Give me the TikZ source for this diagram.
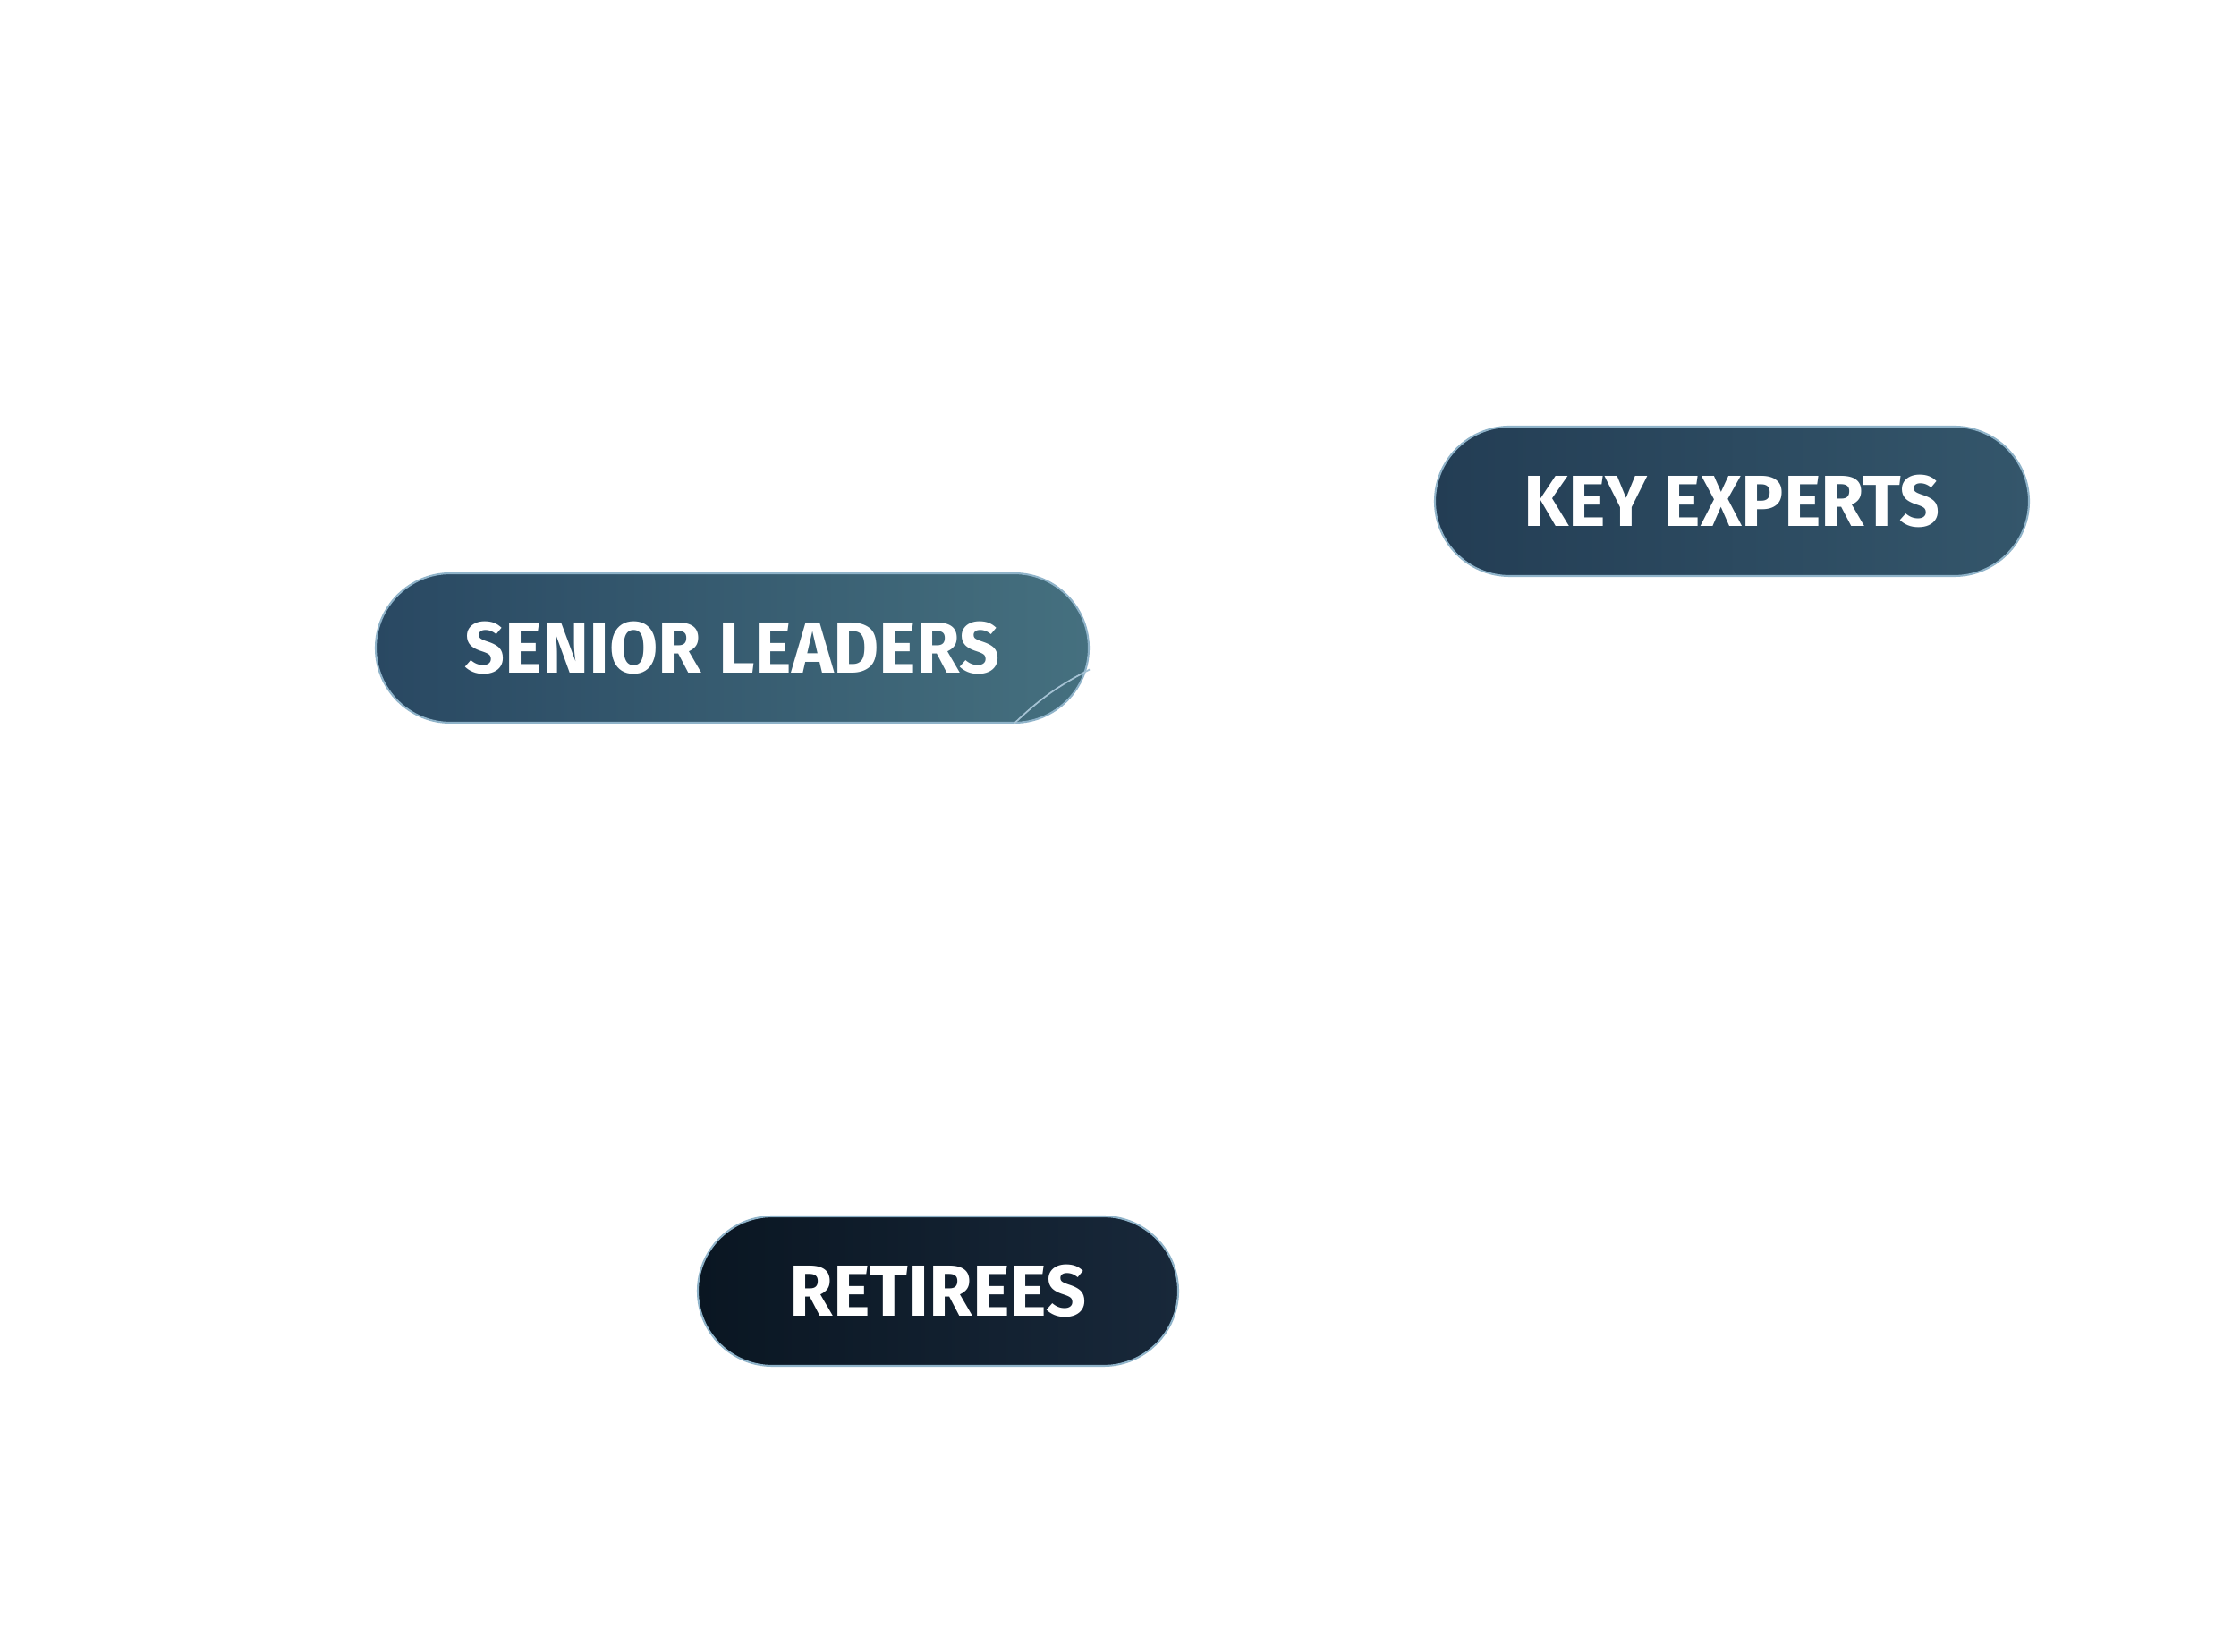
\documentclass[tikz,border=0pt]{standalone}
\usepackage{fontspec}
\setmainfont{Fira Sans}
\usetikzlibrary{shapes.misc}

\definecolor{pillrim}{HTML}{8FB3C9}
\definecolor{leadA}{HTML}{294862}
\definecolor{leadB}{HTML}{45707F}
\definecolor{expA}{HTML}{233D54}
\definecolor{expB}{HTML}{34566B}
\definecolor{retA}{HTML}{0A1622}
\definecolor{retB}{HTML}{18283A}

\begin{document}
\begin{tikzpicture}[
pill/.style={rounded rectangle,draw=pillrim,line width=0.6pt,minimum height=1.67cm,inner sep=0pt,text=white,font=\fontsize{23}{26}\selectfont\bfseries},]

\useasboundingbox (0,0) rectangle (24.76,18.47);

\node[pill,minimum width=7.97cm,left color=leadA,right color=leadB] (senior) at (8.185,11.225) {\scalebox{0.975}[1]{SENIOR LEADERS}};
\node[pill,minimum width=6.64cm,left color=expA,right color=expB] (experts) at (19.36,12.865) {\scalebox{0.975}[1]{KEY EXPERTS}};
\node[pill,minimum width=5.37cm,left color=retA,right color=retB] (retirees) at (10.485,4.035) {\scalebox{0.975}[1]{RETIREES}};

% faint streak on the right end
\draw[pillrim!80!white,line width=0.5pt] (senior.south east) to[bend left=8] ([yshift=-0.24cm]senior.east);
\end{tikzpicture}
\end{document}
